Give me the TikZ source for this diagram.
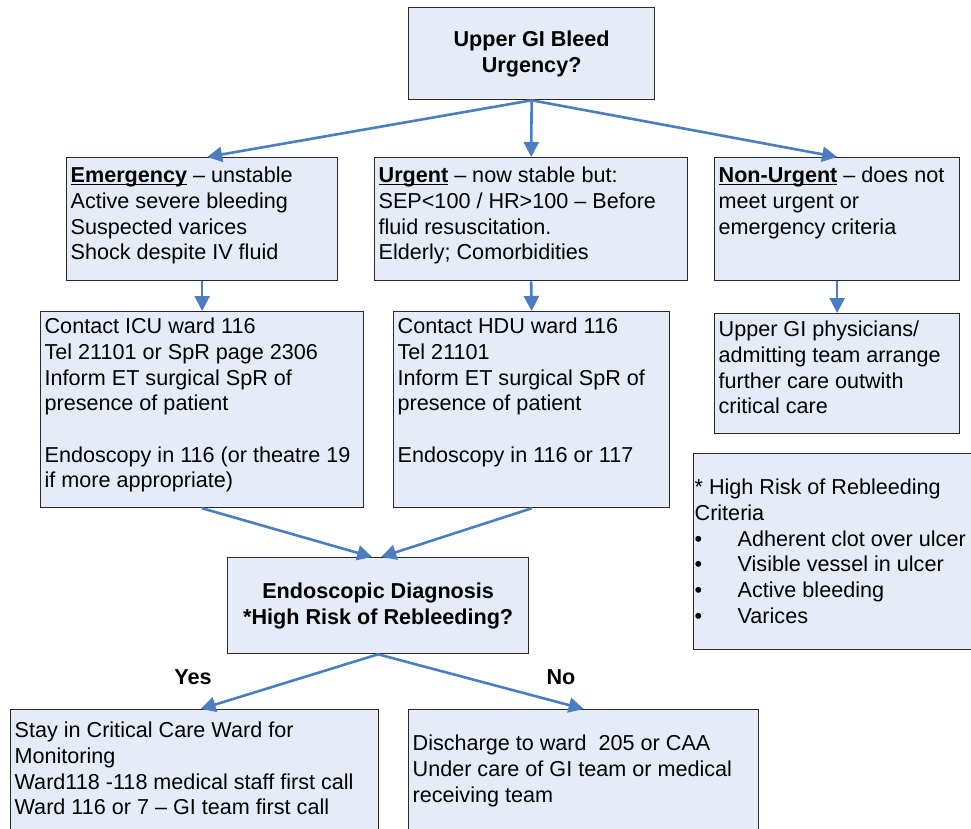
\documentclass[tikz,border=0pt]{standalone}
\usepackage{fontspec}
\setmainfont{Liberation Sans}
\usetikzlibrary{arrows.meta}
\definecolor{boxfill}{RGB}{229,236,247}
\definecolor{boxline}{RGB}{40,40,40}
\definecolor{flowblue}{RGB}{74,126,193}
\newcommand*{\boxfont}{\fontsize{21.6}{25.7}\selectfont}
\newcommand*{\boxtext}[4]{%
\parbox[t][#2pt][t]{#1pt}{\raggedright\vspace*{#3pt}\strut#4}}
\newcommand*{\headword}[1]{%
\sbox0{\textbf{#1}}\usebox0\llap{\rule[-2.6pt]{\wd0}{1.3pt}}}
\newcommand*{\critem}[1]{\\\makebox[43pt][l]{\textbullet}#1}

\begin{document}
\begin{tikzpicture}[x=1pt, y=-1pt,
  box/.style={draw=boxline, line width=1.3pt, fill=boxfill, anchor=north west,
    inner xsep=4pt, inner ysep=0pt, font=\boxfont},
  question/.style={draw=boxline, line width=1.3pt, fill=boxfill, anchor=north west,
    align=center, inner sep=0pt, font=\boxfont\bfseries},
  flow/.style={draw=flowblue, line width=2.6pt, -{Triangle[length=15pt, width=15pt]}},
  answer/.style={anchor=base, font=\boxfont\bfseries}]

\useasboundingbox (0,0) rectangle (971,829);

\node[question, minimum width=246pt, minimum height=92pt] (bleed) at (408,7)
  {Upper GI Bleed\\Urgency?};

% urgency row
\node[box] (emerg) at (66,157) {\boxtext{263}{123}{7}{\headword{Emergency} – unstable\\
  Active severe bleeding\\Suspected varices\\Shock despite IV fluid}};
\node[box] (urgent) at (374,157) {\boxtext{305}{123}{7}{\headword{Urgent} – now stable but:\\
  SEP<100 / HR>100 – Before\\fluid resuscitation.\\Elderly; Comorbidities}};
\node[box] (nonurg) at (714,157) {\boxtext{237}{123}{7}{\headword{Non-Urgent} – does not\\
  meet urgent or\\emergency criteria}};

% where to go
\node[box] (icu) at (40,311) {\boxtext{315}{196}{4}{Contact ICU ward 116\\
  Tel 21101 or SpR page 2306\\Inform ET surgical SpR of\\presence of patient\\[\baselineskip]
  Endoscopy in 116 (or theatre 19\\if more appropriate)}};
\node[box] (hdu) at (393,311) {\boxtext{268}{196}{4}{Contact HDU ward 116\\
  Tel 21101\\Inform ET surgical SpR of\\presence of patient\\[\baselineskip]
  Endoscopy in 116 or 117}};
\node[box] (physic) at (714,313) {\boxtext{237}{120}{5}{Upper GI physicians/\\
  admitting team arrange\\further care outwith\\critical care}};

%% criteria box runs off the right edge
\node[box, inner xsep=1pt] (crit) at (693,453) {\boxtext{310}{196}{23}{* High Risk of Rebleeding\\
  Criteria\critem{Adherent clot over ulcer}\critem{Visible vessel in ulcer}%
  \critem{Active bleeding}\critem{Varices}}};

\node[question, minimum width=301pt, minimum height=96pt] (endo) at (227,557)
  {Endoscopic Diagnosis\\*High Risk of Rebleeding?};

% outcome
\node[box] (stay) at (10,709) {\boxtext{360}{140}{10}{Stay in Critical Care Ward for\\
  Monitoring\\Ward118 -118 medical staff first call\\Ward 116 or 7 – GI team first call}};
\node[box] (discharge) at (408,709) {\boxtext{342}{140}{23}{Discharge to ward\ \ 205 or CAA\\
  Under care of GI team or medical\\receiving team}};

\node[answer] (yeslbl) at (193,684) {Yes};
\node[answer] (nolbl) at (561,684) {No};

\draw[flow] (bleed.south) -- ([xshift=5pt]emerg.north);
\draw[flow] (bleed.south) -- (urgent.north);
\draw[flow] (bleed.south) -- (nonurg.north);
\draw[flow] (emerg.south) -- (icu.north);
\draw[flow] (urgent.south) -- (hdu.north);
\draw[flow] (nonurg.south) -- (physic.north);
\draw[flow] (icu.south) -- ([xshift=-6pt]endo.north);
\draw[flow] (hdu.south) -- ([xshift=3pt]endo.north);
\draw[flow] (endo.south) -- ([xshift=6pt]stay.north);
\draw[flow] (endo.south) -- (discharge.north);
\end{tikzpicture}
\end{document}
